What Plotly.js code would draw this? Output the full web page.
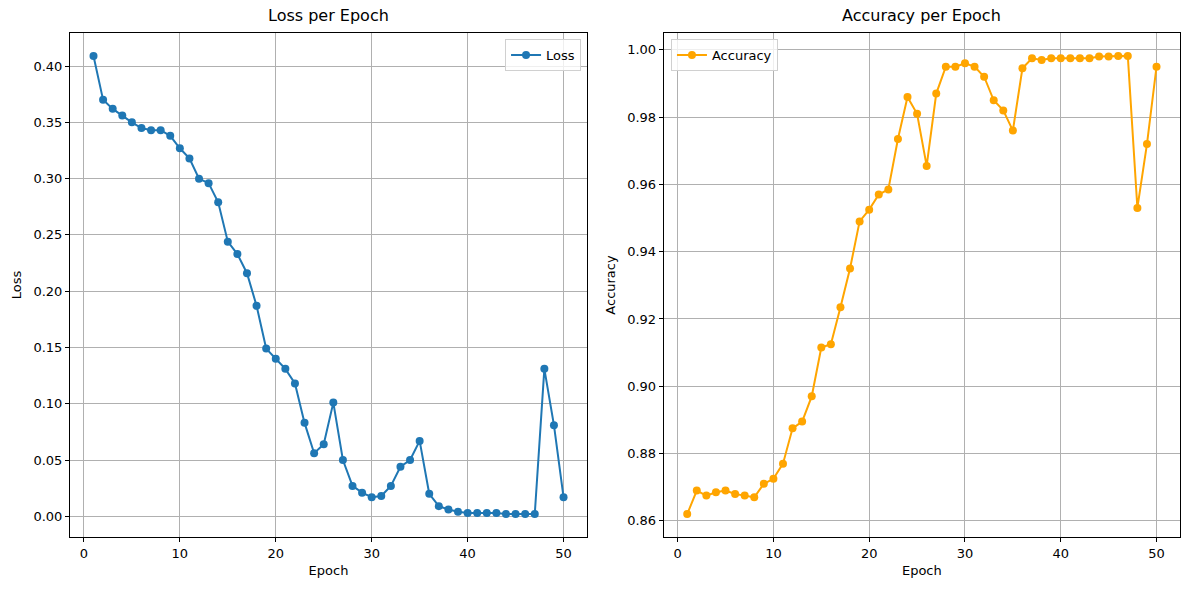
<!DOCTYPE html>
<html>
<head>
<meta charset="utf-8">
<script src="https://cdn.plot.ly/plotly-3.0.1.min.js"></script>
<style>html,body{margin:0;padding:0;background:#fff;}#chart{width:1189px;height:590px;}</style>
</head>
<body>
<div id="chart"></div>
<script>
const epochs = Array.from({length: 50}, (_, i) => i + 1);
const lossValues = [0.409,0.370,0.362,0.356,0.350,0.345,0.343,0.343,0.338,0.327,
  0.318,0.300,0.296,0.279,0.244,0.233,0.216,0.187,0.149,0.140,
  0.131,0.118,0.083,0.056,0.064,0.101,0.050,0.027,0.021,0.017,
  0.018,0.027,0.044,0.050,0.067,0.020,0.009,0.006,0.004,0.003,
  0.003,0.003,0.003,0.002,0.002,0.002,0.002,0.131,0.081,0.017];
const accuracyValues = [0.862,0.869,0.8675,0.8685,0.869,0.868,0.8675,0.867,0.871,0.8725,
  0.877,0.8875,0.8895,0.897,0.9115,0.9125,0.9235,0.935,0.949,0.9525,
  0.957,0.9585,0.9735,0.986,0.981,0.9655,0.987,0.995,0.995,0.996,
  0.995,0.992,0.985,0.982,0.976,0.9945,0.9975,0.997,0.9975,0.9975,
  0.9975,0.9975,0.9975,0.998,0.998,0.9982,0.9982,0.953,0.972,0.995];
const lossTicks = [0.00,0.05,0.10,0.15,0.20,0.25,0.30,0.35,0.40];
const accTicks = [0.86,0.88,0.90,0.92,0.94,0.96,0.98,1.00];
const epochTicks = [0,10,20,30,40,50];

const font = {family: 'DejaVu Sans, sans-serif', color: '#000', size: 13};
const traces = [
  {x: epochs, y: lossValues, mode: 'lines+markers', name: 'Loss', xaxis: 'x', yaxis: 'y',
   line: {color: '#1f77b4', width: 2}, marker: {color: '#1f77b4', size: 8}, legend: 'legend'},
  {x: epochs, y: accuracyValues, mode: 'lines+markers', name: 'Accuracy', xaxis: 'x2', yaxis: 'y2',
   line: {color: 'orange', width: 2}, marker: {color: 'orange', size: 8}, legend: 'legend2'}
];
const axBase = {showline: true, linecolor: '#000', linewidth: 1, mirror: true,
  showgrid: true, gridcolor: '#b0b0b0', gridwidth: 1, zeroline: false,
  ticks: 'outside', ticklen: 4, tickcolor: '#000', tickfont: {size: 13, color: '#000'}};
const layout = {
  width: 1189, height: 590, paper_bgcolor: '#fff', plot_bgcolor: '#fff', font: font,
  margin: {l: 70, r: 9, t: 33, b: 53},
  showlegend: true,
  xaxis: Object.assign({}, axBase, {domain: [0, 0.4658], range: [-1.45, 52.45], tickvals: epochTicks,
    title: {text: 'Epoch', font: {size: 13}, standoff: 6}, anchor: 'y'}),
  yaxis: Object.assign({}, axBase, {range: [-0.0184, 0.4294], tickvals: lossTicks,
    ticktext: lossTicks.map(v => v.toFixed(2)),
    title: {text: 'Loss', font: {size: 13}, standoff: 8}, anchor: 'x'}),
  xaxis2: Object.assign({}, axBase, {domain: [0.5349, 1], range: [-1.45, 52.45], tickvals: epochTicks,
    title: {text: 'Epoch', font: {size: 13}, standoff: 6}, anchor: 'y2'}),
  yaxis2: Object.assign({}, axBase, {range: [0.8552, 1.0050], tickvals: accTicks,
    ticktext: accTicks.map(v => v.toFixed(2)),
    title: {text: 'Accuracy', font: {size: 13}, standoff: 8}, anchor: 'x2'}),
  legend: {x: 0.4604, y: 0.988, xanchor: 'right', yanchor: 'top', bgcolor: 'rgba(255,255,255,0.8)',
    bordercolor: '#d0d0d0', borderwidth: 1, font: {size: 13}},
  legend2: {x: 0.5414, y: 0.988, xanchor: 'left', yanchor: 'top', bgcolor: 'rgba(255,255,255,0.8)',
    bordercolor: '#d0d0d0', borderwidth: 1, font: {size: 13}},
  annotations: [
    {text: 'Loss per Epoch', xref: 'paper', yref: 'paper', x: 0.2329, y: 1, yshift: 6,
     xanchor: 'center', yanchor: 'bottom', showarrow: false, font: {size: 16}},
    {text: 'Accuracy per Epoch', xref: 'paper', yref: 'paper', x: 0.7675, y: 1, yshift: 6,
     xanchor: 'center', yanchor: 'bottom', showarrow: false, font: {size: 16}}
  ]
};
Plotly.newPlot('chart', traces, layout, {displayModeBar: false, staticPlot: true});
</script>
</body>
</html>
